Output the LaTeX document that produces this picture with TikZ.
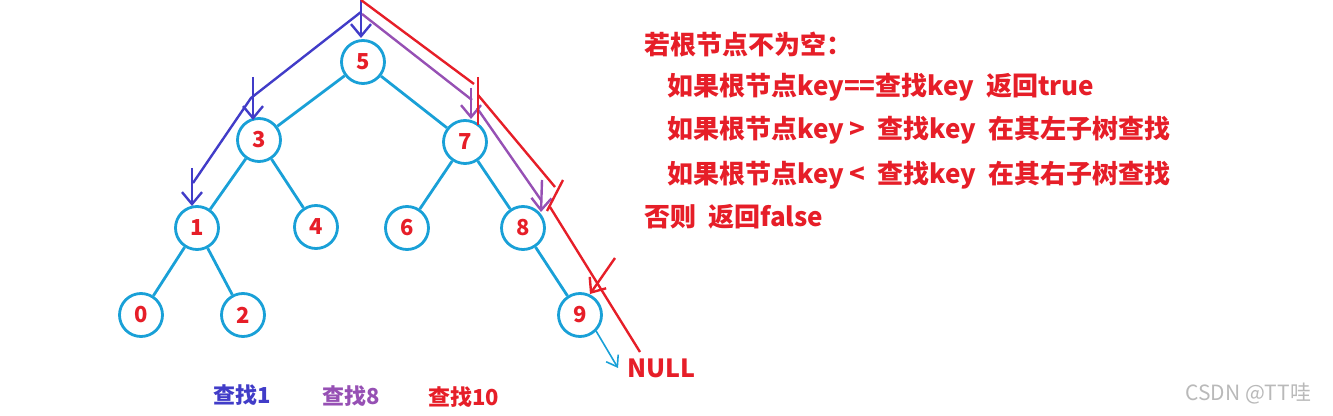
\documentclass[tikz,border=0pt]{standalone}
\usepackage{fontspec}
\setmainfont{Noto Sans CJK SC}
\usetikzlibrary{arrows.meta}
\definecolor{treecyan}{RGB}{25,160,215}
\definecolor{txtred}{RGB}{230,30,40}
\definecolor{pathblue}{RGB}{65,60,200}
\definecolor{pathpurple}{RGB}{150,80,180}
\definecolor{wmgray}{RGB}{185,185,185}
\tikzset{
  treenode/.style={circle,draw=treecyan,line width=1.4pt,minimum size=21.5pt,inner sep=0pt,
    text=txtred,font=\bfseries\fontsize{11pt}{12pt}\selectfont},
  treeedge/.style={draw=treecyan,line width=1.4pt},
  vtip/.style={-{Straight Barb[length=6pt,width=10pt,line width=1.2pt]}},
  bluepath/.style={draw=pathblue,line width=1.2pt,line join=round},
  purplepath/.style={draw=pathpurple,line width=1.2pt,line join=round},
  redpath/.style={draw=txtred,line width=1.2pt,line join=round},
  ruletext/.style={anchor=west,text=txtred,font=\bfseries\fontsize{13pt}{15pt}\selectfont,inner sep=0pt},
  caption/.style={font=\bfseries\fontsize{11pt}{13pt}\selectfont,inner sep=0pt}
}
\begin{document}
\begin{tikzpicture}[x=0.5pt,y=-0.5pt]
\useasboundingbox (0,0) rectangle (1333,416);
% tree nodes
\node[treenode] (n5) at (363,62) {5};
\node[treenode] (n3) at (259,140) {3};
\node[treenode] (n7) at (465,142) {7};
\node[treenode] (n1) at (197,228) {1};
\node[treenode] (n4) at (316,227) {4};
\node[treenode] (n6) at (407,228) {6};
\node[treenode] (n8) at (523,228) {8};
\node[treenode] (n0) at (141,315) {0};
\node[treenode] (n2) at (243,315) {2};
\node[treenode] (n9) at (580,315) {9};
\node[anchor=west,text=txtred,font=\bfseries\fontsize{12.5pt}{14pt}\selectfont,inner sep=0pt] (null) at (627,368) {NULL};
% tree edges
\draw[treeedge] (n5) -- (n3);
\draw[treeedge] (n5) -- (n7);
\draw[treeedge] (n3) -- (n1);
\draw[treeedge] (n3) -- (n4);
\draw[treeedge] (n7) -- (n6);
\draw[treeedge] (n7) -- (n8);
\draw[treeedge] (n1) -- (n0);
\draw[treeedge] (n1) -- (n2);
\draw[treeedge] (n8) -- (n9);
\coordinate (nullin) at (618,368);
\draw[draw=treecyan,line width=0.8pt,-{Straight Barb[length=5pt,width=7pt,line width=0.8pt]}] (n9.-45) -- (nullin);
% search paths
\coordinate (top) at (361,0);
\coordinate (b0) at (361,12);
\coordinate (b1) at (251,98);
\coordinate (b2) at (193,183);
\coordinate (a5s) at (361,10);
\coordinate (a5e) at (361,38);
\coordinate (a3s) at (253,77);
\coordinate (a3e) at (253,120);
\coordinate (a1s) at (192,168);
\coordinate (a1e) at (192,206);
\draw[bluepath] (top) -- (a5s);
\draw[bluepath,vtip] (a5s) -- (a5e);
\draw[bluepath] (b0) -- (b1) -- (b2);
\draw[bluepath,vtip] (a3s) -- (a3e);
\draw[bluepath,vtip] (a1s) -- (a1e);
% purple
\coordinate (p0) at (362,14);
\coordinate (p1) at (472,100);
\coordinate (p2) at (477,108);
\coordinate (p3) at (541,200);
\coordinate (a7s) at (471,88);
\coordinate (a7e) at (471,119);
\coordinate (a8s) at (542,180);
\coordinate (a8e) at (541,212);
\draw[purplepath] (p0) -- (p1);
\draw[purplepath] (p2) -- (p3);
\draw[purplepath,vtip] (a7s) -- (a7e);
\draw[purplepath,vtip] (a8s) -- (a8e);
% red
\coordinate (r0) at (361,0);
\coordinate (r1) at (474,84);
\coordinate (r2) at (478,95);
\coordinate (r3) at (555,187);
\coordinate (r4) at (550,207);
\coordinate (r5) at (640,352);
\coordinate (t7s) at (478,77);
\coordinate (t7e) at (478,125);
\coordinate (t8s) at (563,180);
\coordinate (t8e) at (547,211);
\coordinate (t9s) at (615,258);
\coordinate (t9e) at (590,294);
\draw[redpath] (r0) -- (r1);
\draw[redpath] (r2) -- (r3);
\draw[redpath] (r4) -- (r5);
\draw[redpath] (t7s) -- (t7e);
\draw[redpath] (t8s) -- (t8e);
\draw[redpath,vtip] (t9s) -- (t9e);
% rules text
\node[ruletext] (l1) at (644,45) {若根节点不为空：};
\node[ruletext] (l2) at (667,87) {如果根节点key==查找key\ \ 返回true};
\node[ruletext] (l3) at (667,130) {如果根节点key >\ \ 查找key\ \ 在其左子树查找};
\node[ruletext] (l4) at (667,175) {如果根节点key <\ \ 查找key\ \ 在其右子树查找};
\node[ruletext] (l5) at (644,217) {否则\ \ 返回false};
% captions
\node[caption,anchor=west,text=pathblue] (c1) at (213,395) {查找1};
\node[caption,anchor=west,text=pathpurple] (c8) at (322,396) {查找8};
\node[caption,anchor=west,text=txtred] (c10) at (428,397) {查找10};
\node[anchor=west,inner sep=0pt,text=wmgray,font=\fontsize{10.5pt}{12pt}\selectfont] (wm) at (1185,394) {CSDN @TT哇};
\end{tikzpicture}
\end{document}
